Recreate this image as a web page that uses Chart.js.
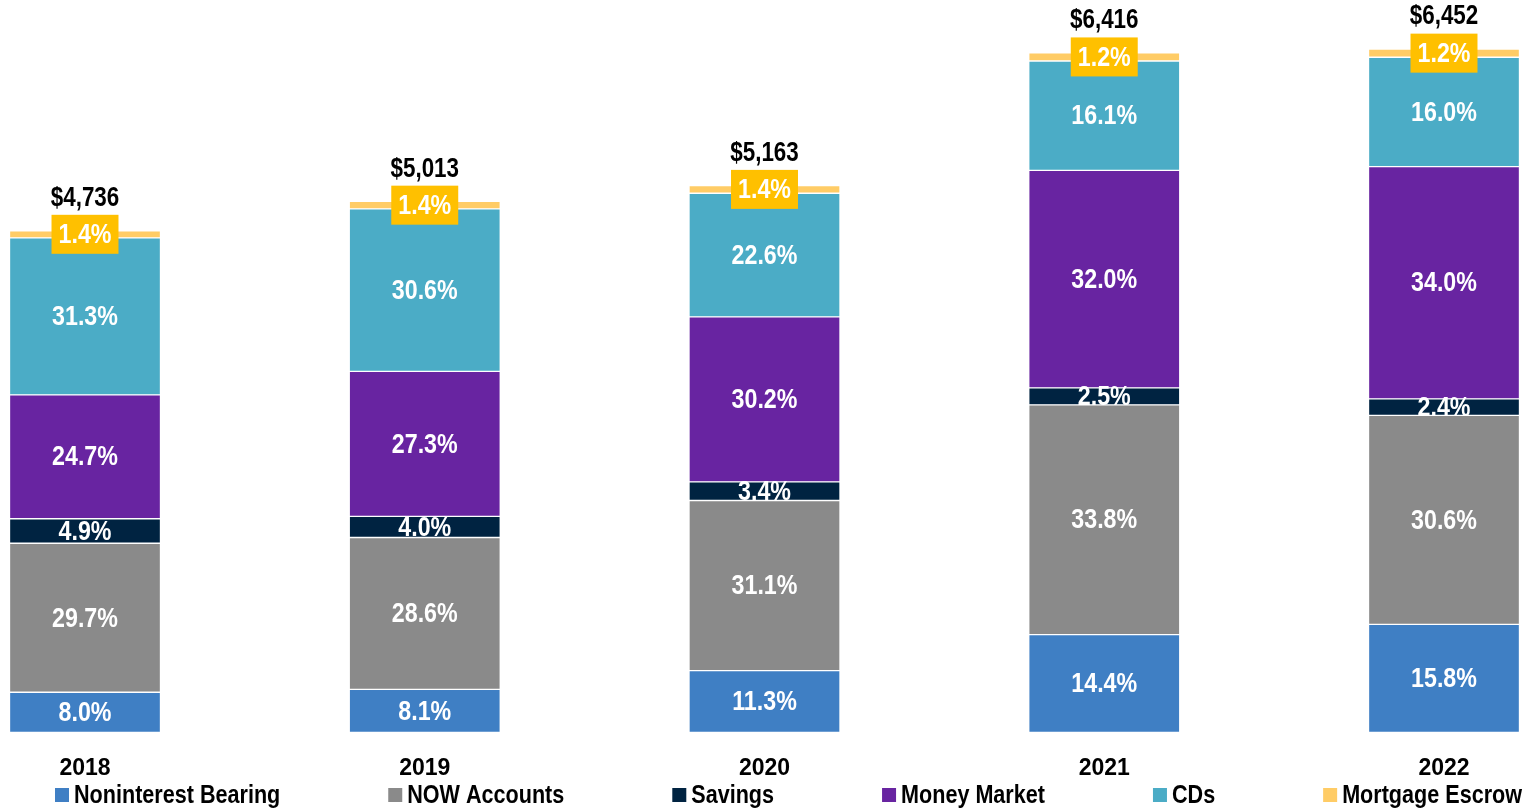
<!DOCTYPE html>
<html lang="en">
<head>
    <meta charset="UTF-8">
    <title>Deposit Mix</title>
    <script src="https://cdn.jsdelivr.net/npm/chart.js"></script>
    <style>
        body {
            margin: 0;
            background: #ffffff;
        }
        .chart-box {
            position: relative;
            width: 1536px;
            height: 810px;
        }
    </style>
</head>
<body>
    <div class="chart-box">
        <canvas id="depositChart"></canvas>
    </div>

    <script>
        // values ($ totals, segment shares in %)
        const years = ['2018', '2019', '2020', '2021', '2022'];
        const totals = [4736, 5013, 5163, 6416, 6452];
        const noninterestBearing = [8.0, 8.1, 11.3, 14.4, 15.8];
        const nowAccounts = [29.7, 28.6, 31.1, 33.8, 30.6];
        const savings = [4.9, 4.0, 3.4, 2.5, 2.4];
        const moneyMarket = [24.7, 27.3, 30.2, 32.0, 34.0];
        const cds = [31.3, 30.6, 22.6, 16.1, 16.0];
        const mortgageEscrow = [1.4, 1.4, 1.4, 1.2, 1.2];

        const seriesNames = ['Noninterest Bearing', 'NOW Accounts', 'Savings', 'Money Market', 'CDs', 'Mortgage Escrow'];
        const seriesShares = [noninterestBearing, nowAccounts, savings, moneyMarket, cds, mortgageEscrow];
        const seriesColors = ['#3F7FC4', '#8A8A8A', '#002341', '#6824A1', '#4BACC6', '#FFCC66'];

        const FONT = "'Liberation Sans', Arial, sans-serif";
        const NARROW = 0.83; // no Arial Narrow here, so squeeze the drawn text

        function narrowText(ctx, text, x, y) {
            ctx.save();
            ctx.translate(x, y);
            ctx.scale(NARROW, 1);
            ctx.fillText(text, 0, 0);
            ctx.restore();
        }

        // segment labels, escrow label box and totals
        const barLabels = {
            id: 'barLabels',
            afterDatasetsDraw(chart) {
                const ctx = chart.ctx;
                ctx.save();
                ctx.font = 'bold 28px ' + FONT;
                ctx.textAlign = 'center';
                ctx.textBaseline = 'middle';
                chart.data.datasets.forEach((ds, i) => {
                    const meta = chart.getDatasetMeta(i);
                    meta.data.forEach((bar, j) => {
                        const text = seriesShares[i][j].toFixed(1) + '%';
                        const cy = (bar.y + bar.base) / 2;
                        if (i === seriesShares.length - 1) {
                            const w = ctx.measureText(text).width * NARROW + 14;
                            ctx.fillStyle = '#FFC000';
                            ctx.fillRect(bar.x - w / 2, cy - 19.5, w, 39);
                        }
                        ctx.fillStyle = '#ffffff';
                        narrowText(ctx, text, bar.x, cy + 1);
                    });
                });
                const topMeta = chart.getDatasetMeta(chart.data.datasets.length - 1);
                ctx.fillStyle = '#000000';
                ctx.font = 'bold 27px ' + FONT;
                topMeta.data.forEach((bar, j) => {
                    narrowText(ctx, '$' + totals[j].toLocaleString('en-US'), bar.x, bar.y - 32);
                });
                ctx.restore();
            }
        };

        // legend row along the bottom, spread evenly
        const bottomLegend = {
            id: 'bottomLegend',
            afterDraw(chart) {
                const ctx = chart.ctx;
                ctx.save();
                ctx.font = 'bold 26px ' + FONT;
                ctx.textBaseline = 'middle';
                ctx.textAlign = 'left';
                const box = 14, boxGap = 5;
                const left = 55, right = 1522, y = 795;
                const widths = seriesNames.map(n => box + boxGap + ctx.measureText(n).width * NARROW);
                const gap = (right - left - widths.reduce((a, b) => a + b, 0)) / (seriesNames.length - 1);
                let x = left;
                seriesNames.forEach((name, i) => {
                    ctx.fillStyle = seriesColors[i];
                    ctx.fillRect(x, y - box / 2, box, box);
                    ctx.fillStyle = '#000000';
                    narrowText(ctx, name, x + box + boxGap, y + 1);
                    x += widths[i] + gap;
                });
                ctx.restore();
            }
        };

        new Chart(document.getElementById('depositChart'), {
            type: 'bar',
            data: {
                labels: years,
                datasets: seriesNames.map((name, i) => ({
                    label: name,
                    data: seriesShares[i].map((p, j) => p * totals[j] / 100),
                    backgroundColor: seriesColors[i],
                    borderColor: 'rgba(255,255,255,0.55)',
                    borderWidth: 1,
                    borderSkipped: false,
                    barThickness: 151,
                    clip: false
                }))
            },
            options: {
                responsive: true,
                maintainAspectRatio: false,
                animation: false,
                layout: {
                    padding: { left: 85, right: 92, top: 0, bottom: 6 }
                },
                plugins: {
                    legend: { display: false },
                    tooltip: { enabled: false }
                },
                scales: {
                    x: {
                        stacked: true,
                        offset: false,
                        grid: { display: false, drawTicks: false },
                        border: { display: false },
                        ticks: {
                            color: '#000000',
                            font: { family: FONT, size: 23, weight: 'bold' },
                            padding: 22
                        }
                    },
                    y: {
                        stacked: true,
                        display: false,
                        min: 0,
                        max: 6915
                    }
                }
            },
            plugins: [barLabels, bottomLegend]
        });
    </script>
</body>
</html>
